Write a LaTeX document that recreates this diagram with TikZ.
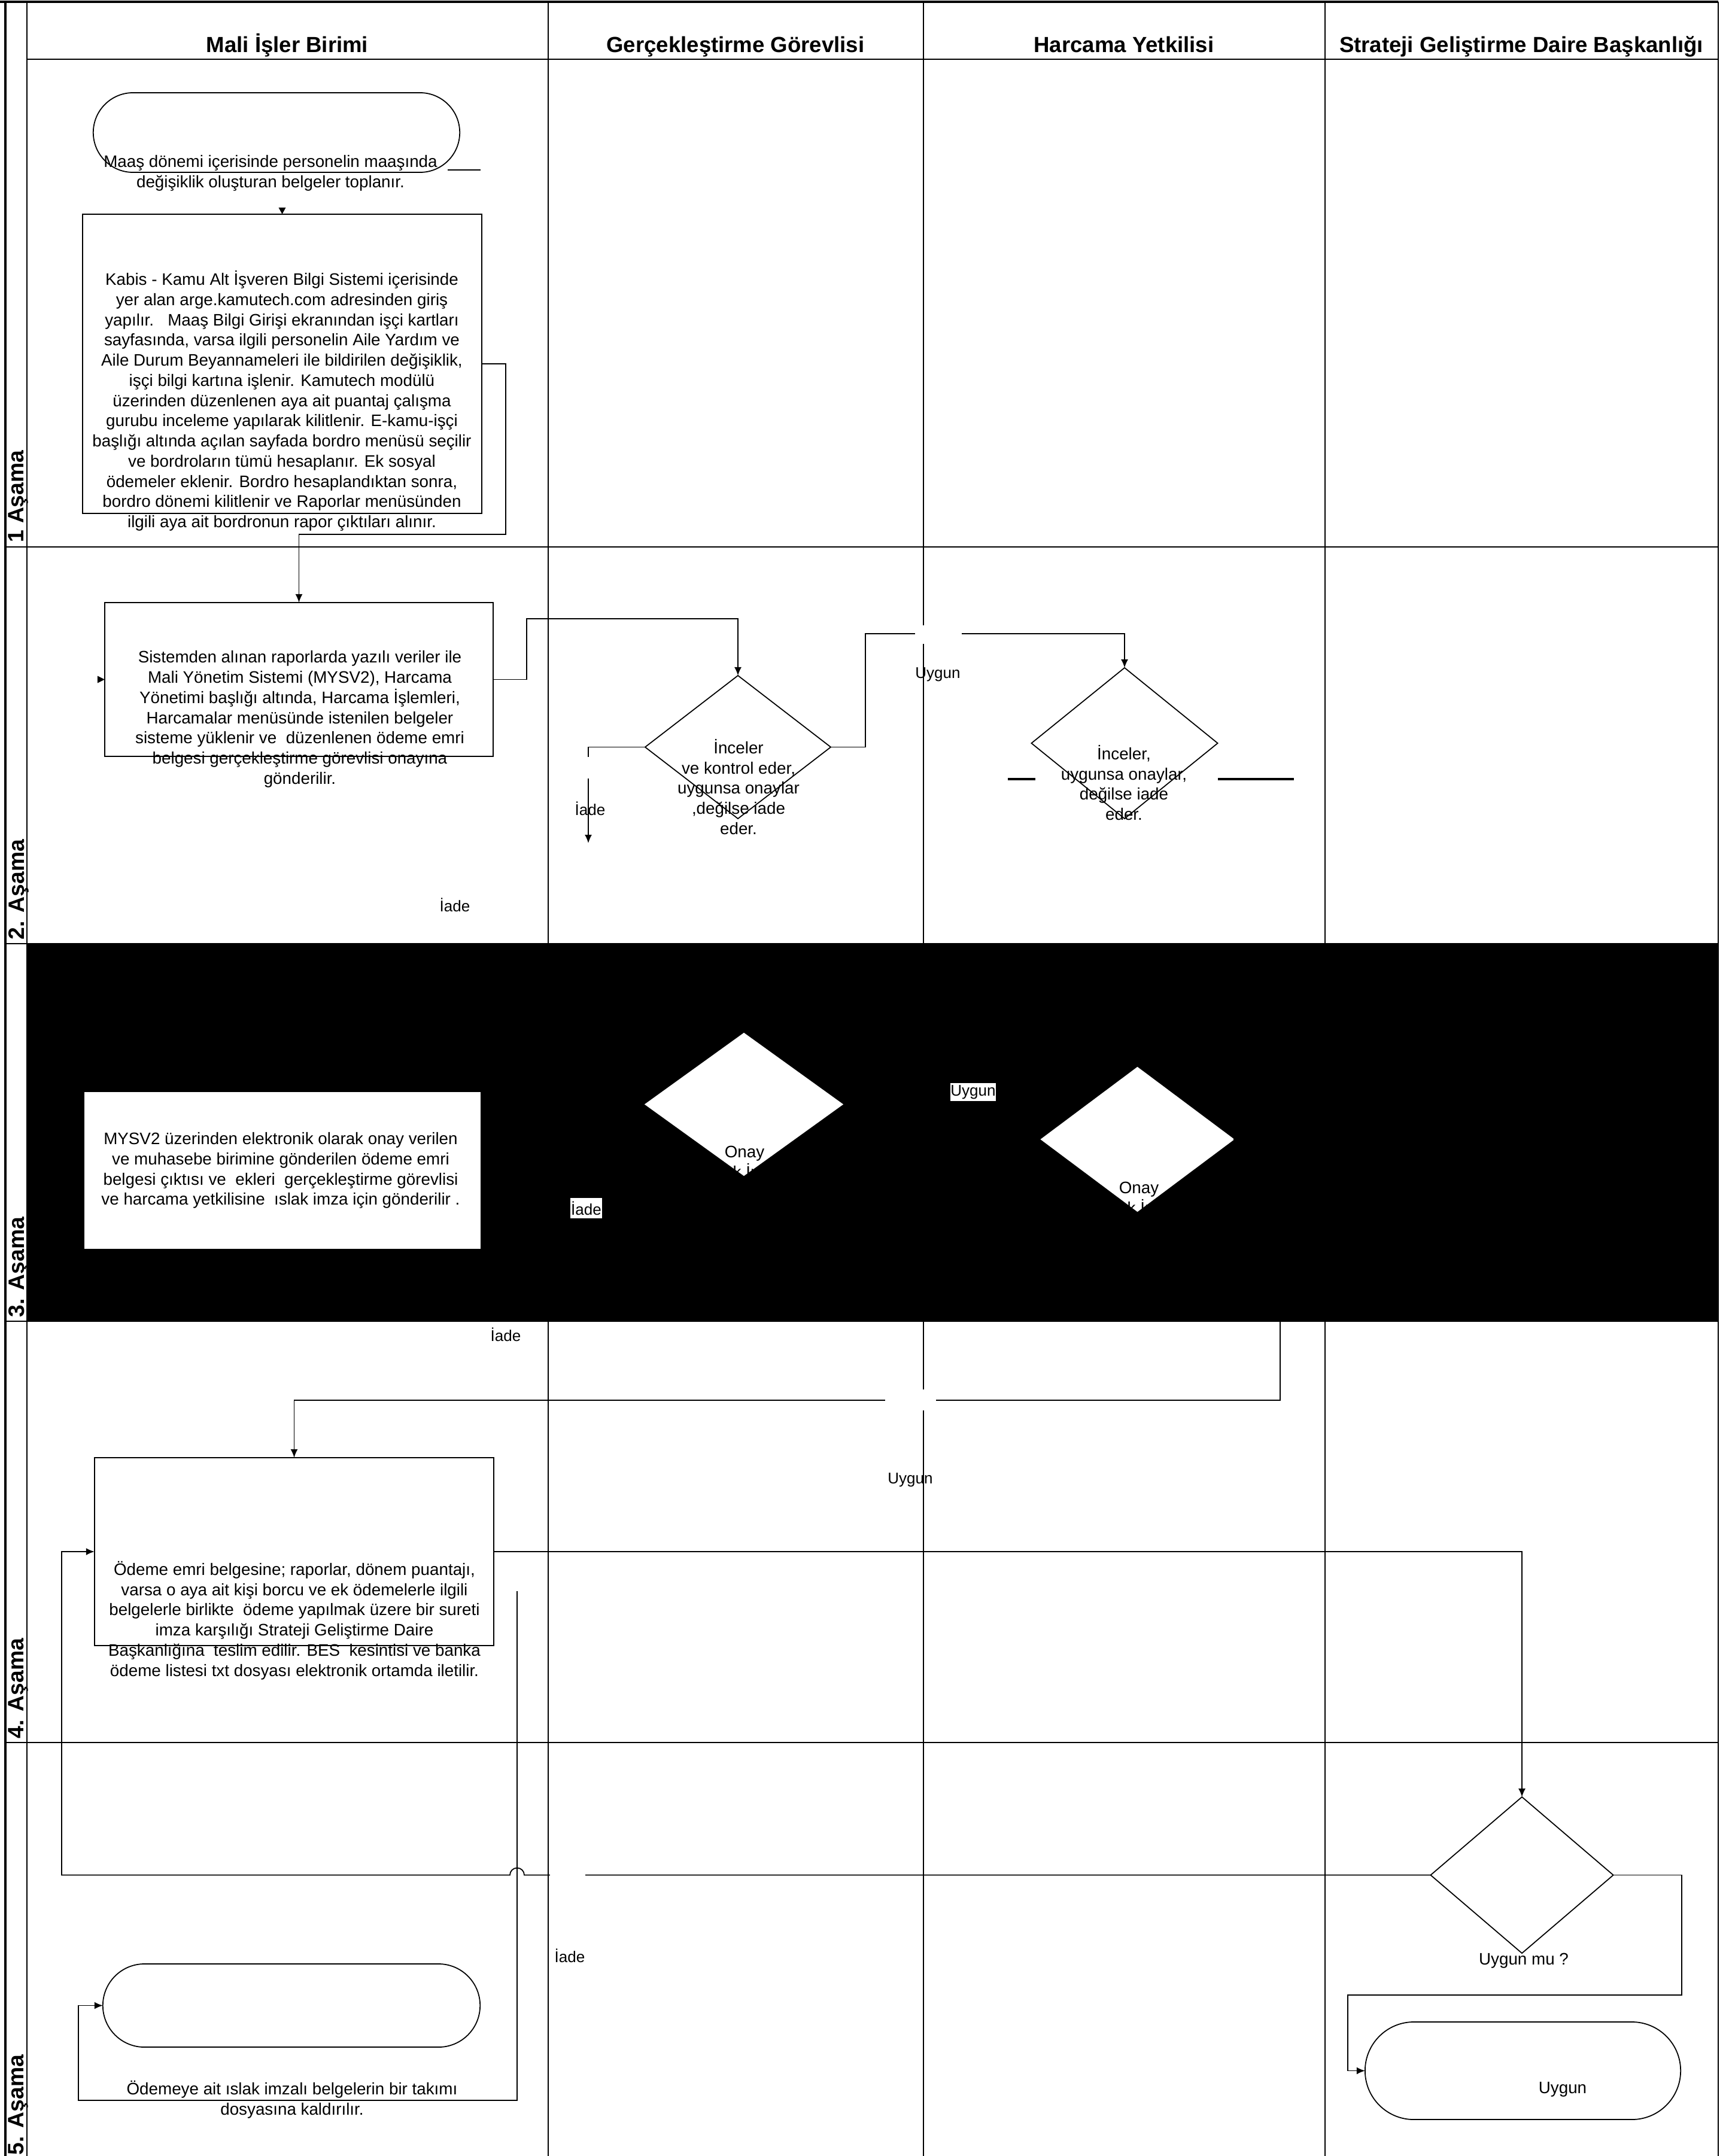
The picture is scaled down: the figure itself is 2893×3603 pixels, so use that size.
\documentclass[tikz,border=0pt]{standalone}
\usepackage{fontspec}
\setmainfont{Liberation Sans}
\usetikzlibrary{shapes.geometric,shapes.misc,arrows.meta,calc}
\begin{document}
\begin{tikzpicture}[x=0.01cm,y=-0.01cm,
  every node/.style={inner sep=0pt, outer sep=0pt},
  shp/.style={draw=black, line width=0.5pt, fill=white},
  proc/.style={shp, rectangle},
  term/.style={shp, rounded rectangle},
  dec/.style={shp, diamond},
  txt/.style={align=center, font=\fontsize{7.9}{9.6}\selectfont},
  lbl/.style={font=\fontsize{7.4}{9}\selectfont},
  hdr/.style={font=\fontsize{10.4}{12}\selectfont\bfseries, anchor=base},
  phase/.style={font=\fontsize{10.6}{12}\selectfont\bfseries, rotate=90, anchor=west},
  conn/.style={line width=0.5pt},
  arr/.style={conn, -{Latex[length=1.4mm,width=1.2mm]}},
  gapbox/.style={fill=white, draw=none, rectangle},
  laneline/.style={line width=0.6pt},
  rowline/.style={line width=0.75pt},
  stub/.style={line width=0.9pt},
]
\useasboundingbox (0,0) rectangle (2893,3603);
\clip (0,0) rectangle (2893,3603);

% ---------- lanes and rows ----------
\fill[black] (45,1577) rectangle (2871,2208);
\draw[line width=1pt] (0,3) -- (2871,3);
\draw[line width=1pt] (9,3) -- (9,3603);
\draw[laneline] (45,3) -- (45,3603);
\foreach \x in {916,1543,2214,2871} \draw[laneline] (\x,3) -- (\x,3603);
\draw[rowline] (45,99) -- (2871,99);
\foreach \y in {914,1577,2208,2912} \draw[rowline] (9,\y) -- (2871,\y);

% headers
\node[hdr] (h1) at (480,88) {Mali İşler Birimi};
\node[hdr] (h2) at (1229,88) {Gerçekleştirme Görevlisi};
\node[hdr] (h3) at (1878,88) {Harcama Yetkilisi};
\node[hdr] (h4) at (2542,88) {Strateji Geliştirme Daire Başkanlığı};

% phase labels
\node[phase] (p1) at (31,906) {1 Aşama};
\node[phase] (p2) at (31,1570) {2. Aşama};
\node[phase] (p3) at (31,2201) {3. Aşama};
\node[phase] (p4) at (31,2905) {4. Aşama};
\node[phase] (p5) at (31,3601) {5. Aşama};

% ---------- shapes ----------
\node[term, minimum width=6.12cm, minimum height=1.33cm] (s1) at (462,221.5) {};
\node[proc, minimum width=6.67cm, minimum height=5.00cm] (b1) at (471.5,608) {};
\node[proc, minimum width=6.49cm, minimum height=2.57cm] (b2) at (499.5,1135.5) {};
\node[dec, minimum width=3.10cm, minimum height=2.39cm] (d1) at (1233,1248.5) {};
\node[dec, minimum width=3.11cm, minimum height=2.52cm] (d2) at (1879,1242) {};
\node[proc, draw=white, minimum width=6.60cm, minimum height=2.60cm] (b3) at (472,1956) {};
\node[dec, draw=white, minimum width=3.29cm, minimum height=2.37cm] (d3) at (1243,1845.5) {};
\node[dec, draw=white, minimum width=3.21cm, minimum height=2.40cm] (d4) at (1900.5,1904) {};
\node[proc, minimum width=6.67cm, minimum height=3.14cm] (b4) at (491.5,2593) {};
\node[dec, minimum width=3.05cm, minimum height=2.61cm] (d5) at (2543,3133.5) {};
\node[term, minimum width=6.30cm, minimum height=1.39cm] (s2) at (487,3351.5) {};
\node[term, minimum width=5.27cm, minimum height=1.63cm] (s3) at (2544.5,3460.5) {};

% ---------- connectors ----------
\draw[arr] (b1.east) -| (845,893) -| (b2.north);
\draw[arr] (b2.east) -| (880,1034) -| (d1.north);
\draw[arr] (d1.west) -| (983,1409);
\draw[arr] (d1.east) -| (1446,1059) -| (d2.north);
\draw[arr] (d4.east) -| (2139,2340) -| (b4.north);
\draw[arr] (b4.east) -| (d5.north);
\draw[arr] (d5.west) -- (876,3133.5) arc[start angle=0,end angle=-180,radius=12] -- (103,3133.5) |- (b4.west);
\coordinate (c5) at (864,2659);
\draw[arr] (c5) |- (131,3510) |- (s2.west);
\draw[arr] (d5.east) -| (2810,3334) -| (2252,3460.5) -- (s3.west);

% stubs and lone arrow tips
\coordinate (st1a) at (748,284); \coordinate (st1b) at (803,284);
\draw[line width=0.6pt] (st1a) -- (st1b);
\coordinate (st2a) at (1684,1302); \coordinate (st2b) at (1730,1302);
\draw[stub] (st2a) -- (st2b);
\coordinate (st3a) at (2035,1302); \coordinate (st3b) at (2162,1302);
\draw[stub] (st3a) -- (st3b);
\fill ($(b1.north)+(-6,-11)$) -- ($(b1.north)+(6,-11)$) -- (b1.north) -- cycle;
\fill ($(b2.west)+(-12,-6)$) -- ($(b2.west)+(-12,6)$) -- (b2.west) -- cycle;

% white label backgrounds
\node[gapbox, minimum width=0.40cm, minimum height=0.36cm] (g1) at (983,1283) {};
\node[gapbox, minimum width=0.78cm, minimum height=0.31cm] (g2) at (1568,1060.5) {};
\node[gapbox, minimum width=0.85cm, minimum height=0.35cm] (g3) at (1521.5,2339.5) {};
\node[gapbox, minimum width=0.58cm, minimum height=0.26cm] (g4) at (948.5,3133.5) {};

% ---------- texts ----------
\node[txt] (ts1) at (452,289) {Maaş dönemi içerisinde personelin maaşında\\değişiklik oluşturan belgeler toplanır.};
\node[txt] (tb1) at (471,670) {Kabis - Kamu Alt İşveren Bilgi Sistemi içerisinde\\
yer alan arge.kamutech.com adresinden giriş\\
yapılır.\ \ \ Maaş Bilgi Girişi ekranından işçi kartları\\
sayfasında, varsa ilgili personelin Aile Yardım ve\\
Aile Durum Beyannameleri ile bildirilen değişiklik,\\
işçi bilgi kartına işlenir. Kamutech modülü\\
üzerinden düzenlenen aya ait puantaj çalışma\\
gurubu inceleme yapılarak kilitlenir. E-kamu-işçi\\
başlığı altında açılan sayfada bordro menüsü seçilir\\
ve bordroların tümü hesaplanır. Ek sosyal\\
ödemeler eklenir. Bordro hesaplandıktan sonra,\\
bordro dönemi kilitlenir ve Raporlar menüsünden\\
ilgili aya ait bordronun rapor çıktıları alınır.};
\node[txt] (tb2) at (501,1202) {Sistemden alınan raporlarda yazılı veriler ile\\
Mali Yönetim Sistemi (MYSV2), Harcama\\
Yönetimi başlığı altında, Harcama İşlemleri,\\
Harcamalar menüsünde istenilen belgeler\\
sisteme yüklenir ve\ \ düzenlenen ödeme emri\\
belgesi gerçekleştirme görevlisi onayına\\
gönderilir.};
\node[txt] (td1) at (1234,1315) {İnceler\\ve kontrol eder,\\uygunsa onaylar\\,değilse iade\\eder.};
\node[txt] (td2) at (1878,1308) {İnceler,\\uygunsa onaylar,\\değilse iade\\eder.};
\node[txt] (tb3) at (469,1956) {MYSV2 üzerinden elektronik olarak onay verilen\\
ve muhasebe birimine gönderilen ödeme emri\\
belgesi çıktısı ve\ \ ekleri\ \ gerçekleştirme görevlisi\\
ve harcama yetkilisine\ \ ıslak imza için gönderilir .};
\node[txt, font=\fontsize{7.9}{7.6}\selectfont] (td3) at (1244,1942) {Onay\\ıslak İmza};
\node[txt, font=\fontsize{7.9}{7.6}\selectfont] (td4) at (1903,2002) {Onay\\ıslak İmza};
\node[txt] (tb4) at (492,2708) {Ödeme emri belgesine; raporlar, dönem puantajı,\\
varsa o aya ait kişi borcu ve ek ödemelerle ilgili\\
belgelerle birlikte\ \ ödeme yapılmak üzere bir sureti\\
imza karşılığı Strateji Geliştirme Daire\\
Başkanlığına\ \ teslim edilir. BES\ \ kesintisi ve banka\\
ödeme listesi txt dosyası elektronik ortamda iletilir.};
\node[txt] (ts2) at (488,3509) {Ödemeye ait ıslak imzalı belgelerin bir takımı\\dosyasına kaldırılır.};
\node[txt] (td5) at (2546,3277) {Uygun mu ?};
\node[txt] (ts3) at (2611,3492) {Uygun};

% labels
\node[lbl] (l1) at (1567,1127) {Uygun};
\node[lbl] (l2) at (986,1351) {İade};
\node[lbl] (l3) at (760,1512) {İade};
\node[lbl, fill=white, minimum width=0.74cm, minimum height=0.30cm] (l4) at (1626,1825) {Uygun};
\node[lbl, fill=white, minimum width=0.53cm, minimum height=0.34cm] (l5) at (979.5,2019) {İade};
\node[lbl] (l6) at (845,2230) {İade};
\node[lbl] (l7) at (1521,2473) {Uygun};
\node[lbl] (l8) at (952,3268) {İade};
\end{tikzpicture}
\end{document}
